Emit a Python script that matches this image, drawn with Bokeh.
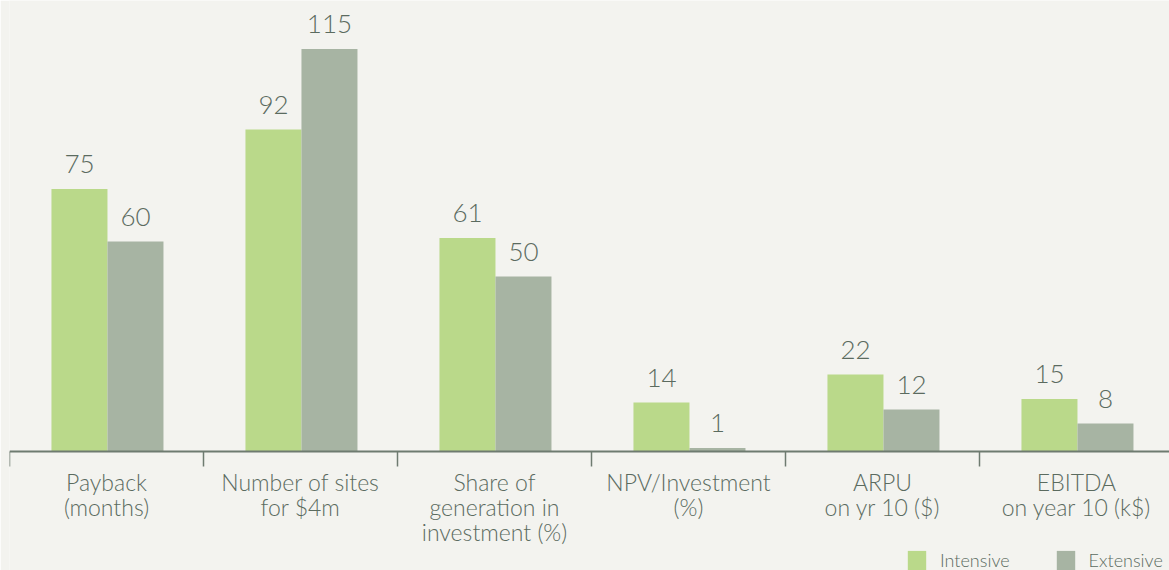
import math
from bokeh.plotting import figure
from bokeh.models import Range1d, Legend, LegendItem, ColumnDataSource, Span
from bokeh.core.properties import value
from bokeh.embed import file_html
from bokeh.resources import INLINE

categories = ["Payback\n(months)", "Number of sites\nfor $4m", "Share of\ngeneration in\ninvestment (%)",
              "NPV/Investment\n(%)", "ARPU\non yr 10 ($)", "EBITDA\non year 10 (k$)"]
intensive = [75, 92, 61, 14, 22, 15]
extensive = [60, 115, 50, 1, 12, 8]

BG = "#f3f3ef"
GREEN = "#bad98a"
GREY = "#a7b4a3"
TEXT = "#5b6b5f"
AXIS = "#6e7b70"
FONT = "Lato Light"

n = len(categories)
centers = [i + 0.5 for i in range(n)]
boundaries = list(range(n + 1))
bw = 0.2887
shift = 0.005
x_int = [c + shift - bw / 2 for c in centers]
x_ext = [c + shift + bw / 2 for c in centers]

src = ColumnDataSource(dict(x_int=x_int, x_ext=x_ext, intensive=intensive, extensive=extensive,
                            l_int=[str(v) for v in intensive], l_ext=[str(v) for v in extensive]))
cat_src = ColumnDataSource(dict(x=centers, y=[0] * n, label=categories))
tick_src = ColumnDataSource(dict(x=boundaries, y=[0] * (n + 1)))

p = figure(width=1169, height=570, output_backend="svg", toolbar_location=None,
           x_range=Range1d(0, 1160 / 194), y_range=Range1d(-119 / 3.5, 451 / 3.5),
           x_axis_location=None, y_axis_location=None,
           min_border_left=9, min_border_right=0, min_border_top=0, min_border_bottom=0)
p.background_fill_color = BG
p.border_fill_color = BG
p.outline_line_color = None
p.xgrid.visible = False
p.ygrid.visible = False

r1 = p.vbar(x="x_int", top="intensive", width=bw, bottom=0, source=src, fill_color=GREEN, line_color=None)
r2 = p.vbar(x="x_ext", top="extensive", width=bw, bottom=0, source=src, fill_color=GREY, line_color=None)

for xcol, ycol, lcol in [("x_int", "intensive", "l_int"), ("x_ext", "extensive", "l_ext")]:
    p.text(x=xcol, y=ycol, text=lcol, source=src, y_offset=-25, text_align="center",
           text_baseline="alphabetic", text_font=value(FONT), text_font_size="26px", text_color=TEXT)

# category axis: baseline, boundary ticks, labels
p.add_layout(Span(location=0, dimension="width", line_color=AXIS, line_width=2))
p.ray(x="x", y="y", source=tick_src, length=15, length_units="screen", angle=-math.pi / 2,
      line_color=AXIS, line_width=1.5)
p.text(x="x", y="y", text="label", source=cat_src, y_offset=16, text_align="center",
       text_baseline="top", text_font=value(FONT), text_font_size="23px", text_line_height=0.9,
       text_color=TEXT)

legend = Legend(items=[LegendItem(label="Intensive", renderers=[r1]),
                       LegendItem(label="Extensive", renderers=[r2])],
                orientation="horizontal", location=(896, -2),
                glyph_width=23, glyph_height=24, label_height=24, label_standoff=12, spacing=44,
                padding=0, margin=0, border_line_color=None, background_fill_alpha=0,
                label_text_font=FONT, label_text_font_size="18px", label_text_color=TEXT)
p.add_layout(legend)

open("out.html", "w").write(file_html(p, INLINE))
